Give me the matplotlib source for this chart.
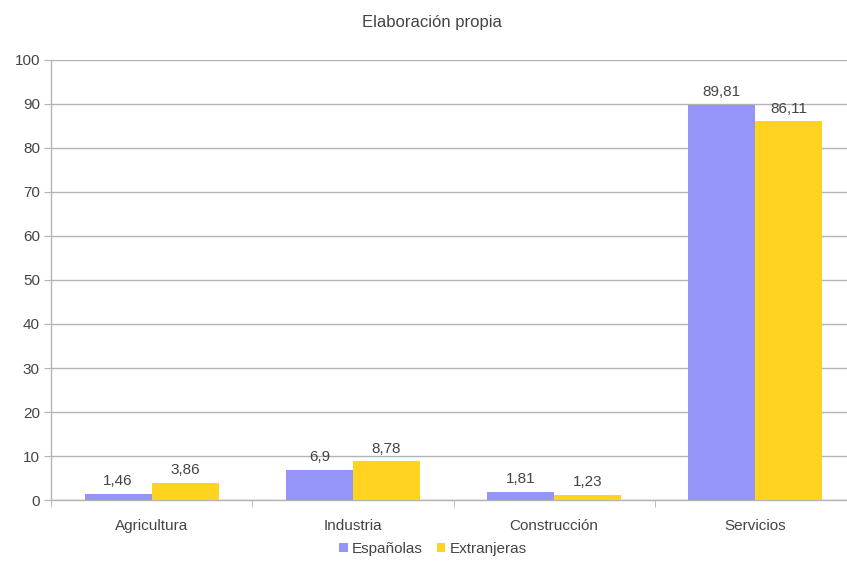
import matplotlib
matplotlib.use("Agg")
import matplotlib.pyplot as plt
import numpy as np

categories = ["Agricultura", "Industria", "Construcción", "Servicios"]
espanolas = [1.46, 6.9, 1.81, 89.81]
extranjeras = [3.86, 8.78, 1.23, 86.11]
series_names = ["Españolas", "Extranjeras"]
yticks = [0, 10, 20, 30, 40, 50, 60, 70, 80, 90, 100]

plt.rcParams['font.family'] = ['Liberation Sans', 'DejaVu Sans']

W, H = 847, 572
fig = plt.figure(figsize=(W / 100, H / 100), dpi=100)
ax = fig.add_axes([51 / W, 72 / H, 805 / W, 440 / H])

x = np.arange(len(categories))
bw = 0.333
c1, c2 = "#9595f8", "#ffd320"
tc = "#444444"
b1 = ax.bar(x - bw, espanolas, bw, align='edge', color=c1, zorder=3, label=series_names[0])
b2 = ax.bar(x, extranjeras, bw, align='edge', color=c2, zorder=3, label=series_names[1])

def fmt(v):
    return ("%g" % v).replace(".", ",")

for bars, vals in ((b1, espanolas), (b2, extranjeras)):
    for r, v in zip(bars, vals):
        ax.annotate(fmt(v), (r.get_x() + r.get_width() / 2, v), xytext=(0, 4),
                    textcoords="offset points", ha="center", va="bottom",
                    fontsize=11, color=tc, zorder=4)

ax.set_xlim(-0.5, len(categories) - 0.5)
ax.set_ylim(0, 100)
ax.set_yticks(yticks)
ax.set_yticklabels([str(t) for t in yticks])
ax.yaxis.grid(True, color="#b3b3b3", linewidth=1, zorder=0)
ax.set_xticks(x)
ax.set_xticklabels(categories)
ax.set_xticks(np.arange(-0.5, len(categories) - 0.5, 1.0), minor=True)
ax.tick_params(axis='x', which='major', length=0, pad=14, labelsize=11, labelcolor=tc)
ax.tick_params(axis='x', which='minor', length=5, color="#b3b3b3", direction='out')
ax.tick_params(axis='y', length=5, color="#b3b3b3", labelsize=11, labelcolor=tc, pad=3)
for s in ("top", "right"):
    ax.spines[s].set_visible(False)
for s in ("left", "bottom"):
    ax.spines[s].set_color("#b3b3b3")
    ax.spines[s].set_linewidth(1)

fig.text(432 / W, 1 - 22 / H, "Elaboración propia", ha="center", va="center",
         fontsize=12, color=tc)

fig.legend(handles=[b1, b2], labels=series_names, loc="center",
           bbox_to_anchor=(433 / W, 1 - 549 / H), ncol=2, frameon=False,
           fontsize=11, handlelength=0.55, handleheight=0.55, handletextpad=0.3,
           columnspacing=0.9, labelcolor=tc)

fig.savefig("out.png", dpi=100)
